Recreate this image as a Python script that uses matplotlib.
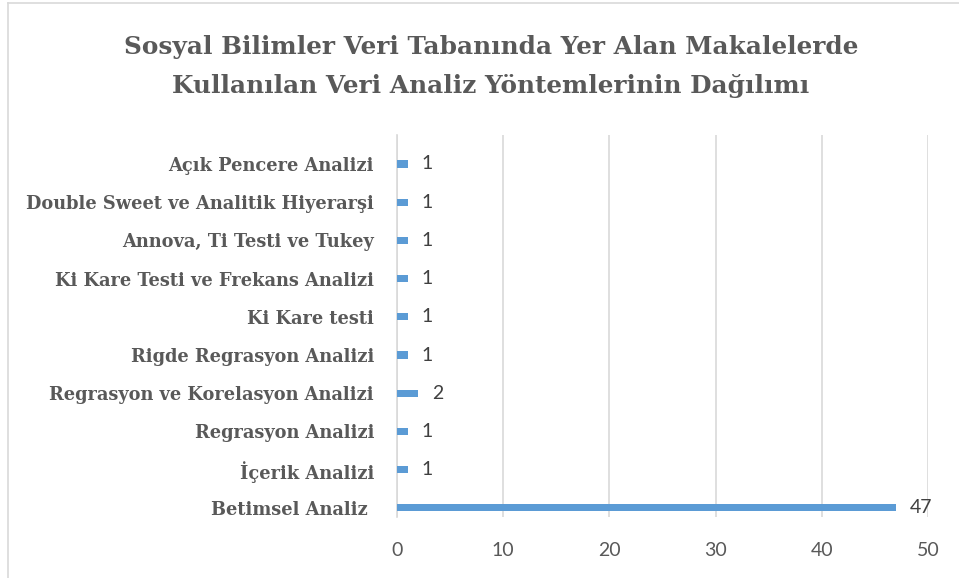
import matplotlib.pyplot as plt
from matplotlib.lines import Line2D

categories = [
    "Betimsel Analiz ",
    "İçerik Analizi",
    "Regrasyon Analizi",
    "Regrasyon ve Korelasyon Analizi",
    "Rigde Regrasyon Analizi",
    "Ki Kare testi",
    "Ki Kare Testi ve Frekans Analizi",
    "Annova, Ti Testi ve Tukey",
    "Double Sweet ve Analitik Hiyerarşi",
    "Açık Pencere Analizi",
]
values = [47, 1, 1, 2, 1, 1, 1, 1, 1, 1]
xticks = [0, 10, 20, 30, 40, 50]

title = ("Sosyal Bilimler Veri Tabanında Yer Alan Makalelerde\n"
         "Kullanılan Veri Analiz Yöntemlerinin Dağılımı")

fig = plt.figure(figsize=(9.59, 5.78), dpi=100)
ax = fig.add_axes([0.414, 0.1055, 0.5537, 0.661])

pos = list(range(len(categories)))
bars = ax.barh(pos, values, height=0.19, color="#5B9BD5", zorder=3)
ax.bar_label(bars, padding=10, fontsize=14, color="#404040", family="Lato")

ax.set_xlim(0, 50)
ax.set_ylim(-0.24, 9.76)
ax.set_xticks(xticks)
ax.set_yticks(pos)
ax.set_yticklabels(categories, family="DejaVu Serif", fontweight="bold",
                   fontsize=12.8, color="#595959")
for lab in ax.get_xticklabels():
    lab.set_family("Lato")
    lab.set_fontsize(14)
    lab.set_color("#595959")
ax.tick_params(axis="x", length=0, pad=18)
ax.tick_params(axis="y", length=0, pad=16.5)

ax.grid(axis="x", color="#D9D9D9", linewidth=1.2, zorder=0)
for s in ["top", "right", "bottom"]:
    ax.spines[s].set_visible(False)
ax.spines["left"].set_color("#D9D9D9")
ax.spines["left"].set_linewidth(1.2)

fig.text(0.512, 0.885, title, ha="center", va="center", family="DejaVu Serif",
         fontweight="bold", fontsize=17.8, color="#595959", linespacing=1.75)

# chart frame (top and left edges visible in the reference)
fig.add_artist(Line2D([8 / 959, 1], [1 - 3 / 578, 1 - 3 / 578],
                      transform=fig.transFigure, color="#D9D9D9", lw=1.2))
fig.add_artist(Line2D([8 / 959, 8 / 959], [0, 1 - 3 / 578],
                      transform=fig.transFigure, color="#D9D9D9", lw=1.2))

fig.savefig("out.png", dpi=100)
